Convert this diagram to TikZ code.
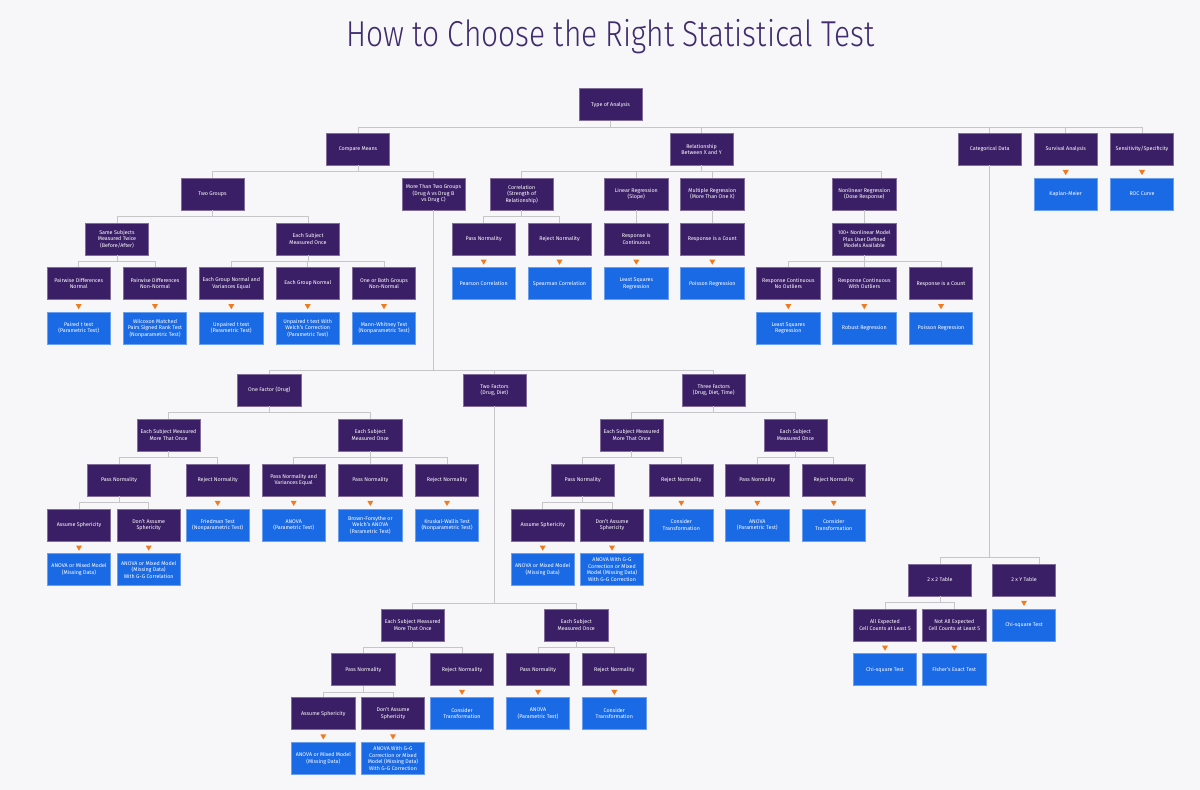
\documentclass[tikz,border=0pt]{standalone}
\usepackage{fontspec}
\setmainfont{Fira Sans}
\newfontfamily\titlefont{Fira Sans Light}
\usepackage{graphicx}
\usetikzlibrary{shapes.geometric}
\definecolor{deep}{HTML}{3B1F66}
\definecolor{bright}{HTML}{1A6AE6}
\definecolor{flag}{HTML}{F07A1E}
\definecolor{rule}{HTML}{C6C6C8}
\definecolor{paper}{HTML}{F7F7F9}
\definecolor{heading}{HTML}{3F2B6E}

\begin{document}
\begin{tikzpicture}[x=1pt, y=-1pt,
    cell/.style={minimum width=63.3pt, minimum height=31.7pt, inner sep=1pt, align=center, text=white, font=\fontsize{5.35}{6.5}\selectfont, line width=0.5pt},
    question/.style={cell, fill=deep, draw=deep!65!white},
    answer/.style={cell, fill=bright, draw=bright!65!white},
    branch/.style={draw=rule, line width=0.9pt},
    pointer/.style={regular polygon, regular polygon sides=3, shape border rotate=180, fill=flag, minimum size=7pt, inner sep=0pt}]
  \fill [paper] (0,0) rectangle (1200,790);
  \useasboundingbox (0,0) rectangle (1200,790);

  \node (title) at (610.5,46.7) [anchor=base, text=heading, font=\titlefont\fontsize{36}{36}\selectfont] {\scalebox{0.83}[1]{How to Choose the Right Statistical Test}};

  % top levels
  \node (type) at (610.5,104.5) [question] {Type of Analysis};
  \node (cm) at (358,149.3) [question] {Compare Means};
  \node (rel) at (701.6,149.3) [question] {Relationship\\Between X and Y};
  \node (cat) at (989.7,149.3) [question] {Categorical Data};
  \node (surv) at (1065.7,149.3) [question] {Survival Analysis};
  \node (sens) at (1142,149.3) [question] {Sensitivity/Specificity};

  \node (twog) at (212.5,194) [question] {Two Groups};
  \node (more) at (433.5,194) [question] {More Than Two Groups\\(Drug A vs Drug B\\vs Drug C)};
  \node (corr) at (521.7,194) [question] {Correlation\\(Strength of\\Relationship)};
  \node (lin) at (636.3,194) [question] {Linear Regression\\(Slope)};
  \node (mult) at (712.3,194) [question] {Multiple Regression\\(More Than One X)};
  \node (nlr) at (864.3,194) [question] {Nonlinear Regression\\(Dose Response)};
  \node (km) at (1065.7,194) [answer] {Kaplan-Meier};
  \node (roc) at (1142,194) [answer] {ROC Curve};

  \node (same) at (117,239) [question] {Same Subjects\\Measured Twice\\(Before/After)};
  \node (once) at (308,239) [question] {Each Subject\\Measured Once};
  \node (cpass) at (483.7,239) [question] {Pass Normality};
  \node (crej) at (559.5,239) [question] {Reject Normality};
  \node (lcont) at (636.3,239) [question] {Response is\\Continuous};
  \node (mcount) at (712.3,239) [question] {Response is a Count};
  \node (nlm) at (864.3,239) [question] {100+ Nonlinear Model\\Plus User Defined\\Models Available};

  \node (pdn) at (78.7,283.5) [question] {Pairwise Differences\\Normal};
  \node (pdnn) at (155,283.5) [question] {Pairwise Differences\\Non-Normal};
  \node (egnv) at (231.3,283.5) [question] {Each Group Normal and\\Variances Equal};
  \node (egn) at (307.7,283.5) [question] {Each Group Normal};
  \node (obg) at (384,283.5) [question] {One or Both Groups\\Non-Normal};
  \node (pear) at (483.7,283.5) [answer] {Pearson Correlation};
  \node (spear) at (559.5,283.5) [answer] {Spearman Correlation};
  \node (lsq) at (636.3,283.5) [answer] {Least Squares\\Regression};
  \node (pois) at (712.3,283.5) [answer] {Poisson Regression};
  \node (rcno) at (788.3,283.5) [question] {Response Continuous\\No Outliers};
  \node (rcwo) at (864.3,283.5) [question] {Response Continuous\\With Outliers};
  \node (rcount) at (941,283.5) [question] {Response is a Count};

  \node (paired) at (78.7,328) [answer] {Paired t test\\(Parametric Test)};
  \node (wilc) at (155,328) [answer] {Wilcoxon Matched\\Pairs Signed Rank Test\\(Nonparametric Test)};
  \node (unp) at (231.3,328) [answer] {Unpaired t test\\(Parametric Test)};
  \node (welch) at (307.7,328) [answer] {Unpaired t test With\\Welch's Correction\\(Parametric Test)};
  \node (mw) at (384,328) [answer] {Mann-Whitney Test\\(Nonparametric Test)};
  \node (nlsq) at (788.3,328) [answer] {Least Squares\\Regression};
  \node (rob) at (864.3,328) [answer] {Robust Regression};
  \node (npois) at (941,328) [answer] {Poisson Regression};

  % factors
  \node (one) at (269.3,390) [question] {One Factor (Drug)};
  \node (two) at (494.4,390) [question] {Two Factors\\(Drug, Diet)};
  \node (three) at (713.7,390) [question] {Three Factors\\(Drug, Diet, Time)};

  \node (o1m) at (168.5,435) [question] {Each Subject Measured\\More That Once};
  \node (o1o) at (370.3,435) [question] {Each Subject\\Measured Once};
  \node (t3m) at (631.6,435) [question] {Each Subject Measured\\More That Once};
  \node (t3o) at (795.4,435) [question] {Each Subject\\Measured Once};

  \node (o1pn) at (119,480) [question] {Pass Normality};
  \node (o1rn) at (217.7,480) [question] {Reject Normality};
  \node (o1pv) at (293.7,480) [question] {Pass Normality and\\Variances Equal};
  \node (o1pn2) at (370.3,480) [question] {Pass Normality};
  \node (o1rn2) at (447,480) [question] {Reject Normality};
  \node (t3pn) at (582.7,480) [question] {Pass Normality};
  \node (t3rn) at (681.3,480) [question] {Reject Normality};
  \node (t3pn2) at (757.3,480) [question] {Pass Normality};
  \node (t3rn2) at (833.7,480) [question] {Reject Normality};

  \node (o1as) at (79,525) [question] {Assume Sphericity};
  \node (o1das) at (148.7,525) [question] {Don't Assume\\Sphericity};
  \node (fried) at (217.7,525) [answer] {Friedman Test\\(Nonparametric Test)};
  \node (o1anova) at (293.7,525) [answer] {ANOVA\\(Parametric Test)};
  \node (bf) at (370.3,525) [answer] {Brown-Forsythe or\\Welch's ANOVA\\(Parametric Test)};
  \node (kw) at (447,525) [answer] {Kruskal-Wallis Test\\(Nonparametric Test)};
  \node (t3as) at (542.7,525) [question] {Assume Sphericity};
  \node (t3das) at (612,525) [question] {Don't Assume\\Sphericity};
  \node (t3ct) at (681.3,525) [answer] {Consider\\Transformation};
  \node (t3anova) at (757.3,525) [answer] {ANOVA\\(Parametric Test)};
  \node (t3ct2) at (833.7,525) [answer] {Consider\\Transformation};

  \node (o1am) at (79,569.5) [answer] {ANOVA or Mixed Model\\(Missing Data)};
  \node (o1amg) at (148.7,569.5) [answer] {ANOVA or Mixed Model\\(Missing Data)\\With G-G Correlation};
  \node (t3am) at (542.7,569.5) [answer] {ANOVA or Mixed Model\\(Missing Data)};
  \node (t3amg) at (612,569.5) [answer] {ANOVA With G-G\\Correction or Mixed\\Model (Missing Data)\\With G-G Correction};

  \node (t2m) at (412.7,625) [question] {Each Subject Measured\\More That Once};
  \node (t2o) at (576.3,625) [question] {Each Subject\\Measured Once};
  \node (t2pn) at (363.3,669.5) [question] {Pass Normality};
  \node (t2rn) at (462,669.5) [question] {Reject Normality};
  \node (t2pn2) at (538,669.5) [question] {Pass Normality};
  \node (t2rn2) at (614.3,669.5) [question] {Reject Normality};
  \node (t2as) at (323.3,713.5) [question] {Assume Sphericity};
  \node (t2das) at (393,713.5) [question] {Don't Assume\\Sphericity};
  \node (t2ct) at (462,713.5) [answer] {Consider\\Transformation};
  \node (t2anova) at (538,713.5) [answer] {ANOVA\\(Parametric Test)};
  \node (t2ct2) at (614.3,713.5) [answer] {Consider\\Transformation};
  \node (t2am) at (323.3,758.5) [answer] {ANOVA or Mixed Model\\(Missing Data)};
  \node (t2amg) at (393,758.5) [answer] {ANOVA With G-G\\Correction or Mixed\\Model (Missing Data)\\With G-G Correction};

  % categorical
  \node (tab22) at (940,580) [question] {2 x 2 Table};
  \node (tab2y) at (1024,580) [question] {2 x Y Table};
  \node (allexp) at (885,625) [question] {All Expected\\Cell Counts at Least 5};
  \node (notall) at (954.3,625) [question] {Not All Expected\\Cell Counts at Least 5};
  \node (chi2y) at (1024,625) [answer] {Chi-square Test};
  \node (chi) at (885,669.5) [answer] {Chi-square Test};
  \node (fisher) at (954.3,669.5) [answer] {Fisher's Exact Test};

  % connectors
  \foreach \p/\c/\d in {type/cm/7, type/rel/7, type/cat/7, type/surv/7, type/sens/7,
      cm/twog/6.5, cm/more/6.5, rel/corr/6.5, rel/lin/6.5, rel/mult/6.5,
      twog/same/6.5, twog/once/6.5, corr/cpass/6.5, corr/crej/6.5,
      lin/lcont/6.5, mult/mcount/6.5, nlr/nlm/6.5,
      same/pdn/6.5, same/pdnn/6.5, once/egnv/6.5, once/egn/6.5, once/obg/6.5,
      nlm/rcno/6.5, nlm/rcwo/6.5, nlm/rcount/6.5,
      more/one/160.7, more/two/160.7, more/three/160.7,
      one/o1m/6.5, one/o1o/6.5, three/t3m/6.5, three/t3o/6.5,
      o1m/o1pn/6.5, o1m/o1rn/6.5, o1o/o1pv/6.5, o1o/o1pn2/6.5, o1o/o1rn2/6.5,
      t3m/t3pn/6.5, t3m/t3rn/6.5, t3o/t3pn2/6.5, t3o/t3rn2/6.5,
      o1pn/o1as/6.5, o1pn/o1das/6.5, t3pn/t3as/6.5, t3pn/t3das/6.5,
      two/t2m/196.9, two/t2o/196.9,
      t2m/t2pn/6.5, t2m/t2rn/6.5, t2o/t2pn2/6.5, t2o/t2rn2/6.5,
      t2pn/t2as/6.5, t2pn/t2das/6.5,
      cat/tab22/392.5, tab22/allexp/6.5, tab22/notall/6.5}
    \draw [branch] (\p.south) -- ++(0,\d) -| (\c.north);
  \draw [branch] (rel.south) -- ++(0,6.5) -| ([xshift=17pt]nlr.north);
  \draw [branch] (cat.south) -- ++(0,392.5) -| ([xshift=15pt]tab2y.north);

  % orange pointers
  \foreach \p/\c in {surv/km, sens/roc, cpass/pear, crej/spear, lcont/lsq, mcount/pois,
      pdn/paired, pdnn/wilc, egnv/unp, egn/welch, obg/mw,
      rcno/nlsq, rcwo/rob, rcount/npois,
      o1rn/fried, o1pv/o1anova, o1pn2/bf, o1rn2/kw, o1as/o1am, o1das/o1amg,
      t3rn/t3ct, t3pn2/t3anova, t3rn2/t3ct2, t3as/t3am, t3das/t3amg,
      t2rn/t2ct, t2pn2/t2anova, t2rn2/t2ct2, t2as/t2am, t2das/t2amg,
      tab2y/chi2y, allexp/chi, notall/fisher}
    \path (\p.south) -- (\c.north) node [midway, pointer] {};
\end{tikzpicture}
\end{document}
